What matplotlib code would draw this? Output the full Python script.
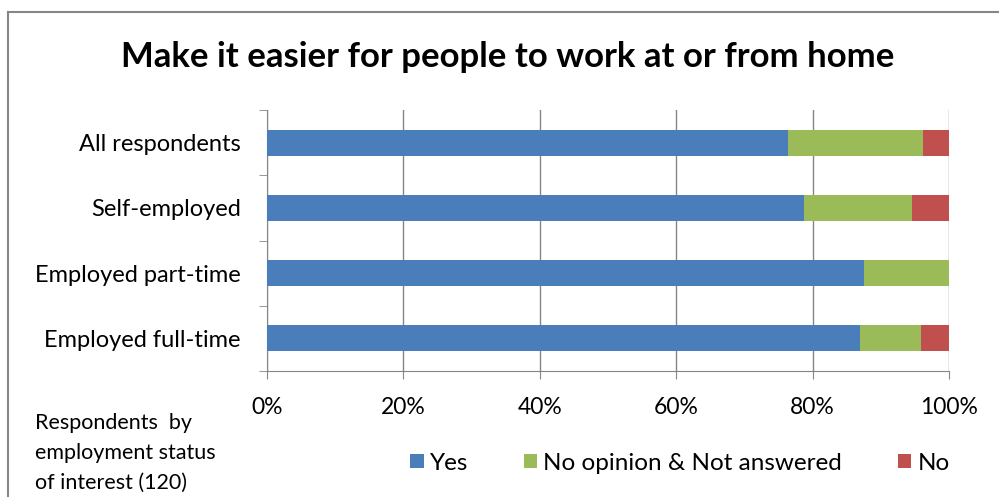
import numpy as np
import matplotlib.pyplot as plt
from matplotlib.lines import Line2D

plt.rcParams['font.family'] = ['Lato', 'DejaVu Sans']

categories = ['All respondents', 'Self-employed', 'Employed part-time', 'Employed full-time']
yes = [76.4, 78.7, 87.5, 87.0]
no_opinion = [19.8, 15.9, 12.5, 8.9]
no = [3.8, 5.4, 0.0, 4.1]
ticks = [0, 20, 40, 60, 80, 100]

blue = '#4a7ebb'
green = '#9bbb59'
red = '#c0504d'

fig = plt.figure(figsize=(9.99, 4.97), dpi=100)
ax = fig.add_axes([267/999, 126/497, 682/999, 261/497])

y = np.arange(len(categories))[::-1]
yes = np.array(yes)
no_opinion = np.array(no_opinion)
no = np.array(no)

b1 = ax.barh(y, yes, height=0.4, color=blue, label='Yes', zorder=3)
b2 = ax.barh(y, no_opinion, left=yes, height=0.4, color=green,
             label='No opinion & Not answered', zorder=3)
b3 = ax.barh(y, no, left=yes + no_opinion, height=0.4, color=red, label='No', zorder=3)

ax.set_xlim(0, 100)
ax.set_ylim(-0.5, len(categories) - 0.5)
ax.set_xticks(ticks)
ax.set_xticklabels([f'{t}%' for t in ticks], fontsize=16.5)
ax.set_yticks(y)
ax.set_yticklabels(categories, fontsize=17)
ax.tick_params(axis='y', length=0, pad=19)
ax.tick_params(axis='x', length=6, color='#868686', pad=13)
ax.set_yticks(np.arange(-0.5, len(categories), 1), minor=True)
ax.tick_params(axis='y', which='minor', length=6, color='#868686')
ax.grid(axis='x', color='#868686', linewidth=1, zorder=0)

for side in ['top', 'right']:
    ax.spines[side].set_visible(False)
for side in ['left', 'bottom']:
    ax.spines[side].set_color('#868686')

fig.text(508/999, 1 - 57/497, 'Make it easier for people to work at or from home',
         ha='center', va='center', fontsize=25, fontweight='bold')

fig.text(35/999, 1 - 453/497, 'Respondents  by\nemployment status\nof interest (120)',
         ha='left', va='center', fontsize=15.5, linespacing=1.6)

fig.legend(handles=[b1, b2, b3], loc='center', bbox_to_anchor=(680/999, 1 - 463/497),
           ncol=3, frameon=False, fontsize=17.5, handlelength=0.55, handleheight=0.55,
           handletextpad=0.25, columnspacing=2.3)

fig.add_artist(Line2D([8/999, 1], [1 - 12/497, 1 - 12/497], color='#868686', linewidth=1.5))
fig.add_artist(Line2D([8/999, 8/999], [0, 1 - 12/497], color='#868686', linewidth=1.5))

fig.savefig('out.png', dpi=100)
